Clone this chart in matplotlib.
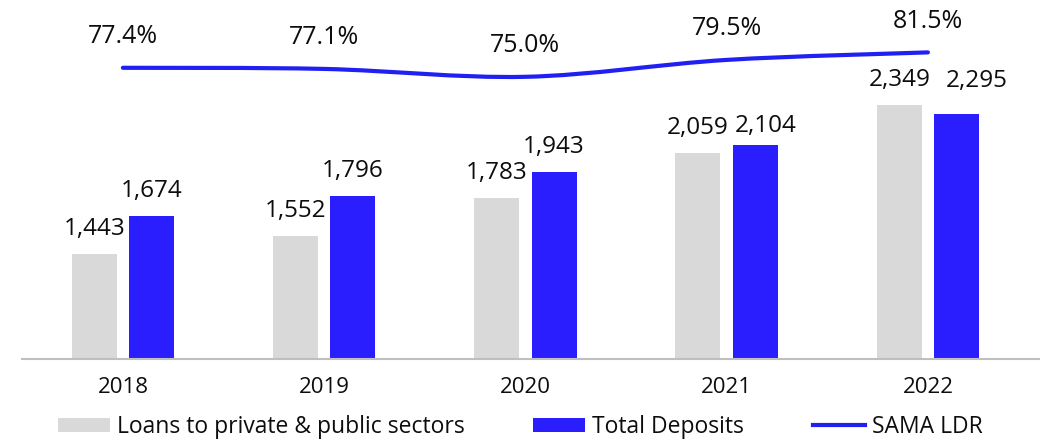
import numpy as np
import matplotlib
matplotlib.use("Agg")
import matplotlib.pyplot as plt
from matplotlib.path import Path
from matplotlib.patches import PathPatch
from matplotlib.lines import Line2D
from matplotlib.patches import Patch

plt.rcParams['font.family'] = ['Open Sans', 'DejaVu Sans']

# данные
years = ['2018', '2019', '2020', '2021', '2022']
loans = [1443, 1552, 1783, 2059, 2349]
deposits = [1674, 1796, 1943, 2104, 2295]
ldr = [77.4, 77.1, 75.0, 79.5, 81.5]

gray = '#D9D9D9'
blue = '#2A1EFF'
line_blue = '#2020F2'
txt = '#0D0D0D'

fig = plt.figure(figsize=(10.4, 4.44), dpi=100)
ax = fig.add_axes([22 / 1040, 85.5 / 444, 1018 / 1040, 358.5 / 444])
ax2 = ax.twinx()

x = np.arange(len(years))
w = 0.2236
off = 0.1426

ax.bar(x - off, loans, w, color=gray, zorder=2)
ax.bar(x + off, deposits, w, color=blue, zorder=2)

ax.set_xlim(-0.5013, 4.557)
ax.set_ylim(811, 2986)
ax2.set_ylim(0, 95.45)

for a in (ax, ax2):
    for s in ('top', 'right', 'left'):
        a.spines[s].set_visible(False)
    a.set_yticks([])
ax2.spines['bottom'].set_visible(False)
ax.spines['bottom'].set_color('#BFBFBF')
ax.spines['bottom'].set_linewidth(1.5)

ax.set_xticks(x)
ax.set_xticklabels(years, fontsize=16, color=txt)
ax.tick_params(axis='x', length=0, pad=13)

# подписи значений над столбцами (некоторые сдвинуты, чтобы не налезали)
nudge_dep = {3: (7.2, -4.0), 4: (14.4, 6.0)}
for i in range(len(years)):
    ax.annotate(f'{loans[i]:,}', (x[i] - off, loans[i]), xytext=(0, 13.7),
                textcoords='offset points', ha='center', va='baseline',
                fontsize=17.5, color=txt)
    dx, dy = nudge_dep.get(i, (0, 0))
    ax.annotate(f'{deposits[i]:,}', (x[i] + off, deposits[i]), xytext=(dx, 13.7 + dy),
                textcoords='offset points', ha='center', va='baseline',
                fontsize=17.5, color=txt)

# сглаженная линия LDR (Catmull-Rom -> кубические Безье)
pts = np.column_stack([x, ldr]).astype(float)
n = len(pts)
verts = [pts[0]]
codes = [Path.MOVETO]
for i in range(n - 1):
    p0 = pts[max(i - 1, 0)]
    p1 = pts[i]
    p2 = pts[i + 1]
    p3 = pts[min(i + 2, n - 1)]
    c1 = p1 + (p2 - p0) / 6
    c2 = p2 - (p3 - p1) / 6
    verts += [c1, c2, p2]
    codes += [Path.CURVE4] * 3
curve = PathPatch(Path(verts, codes), facecolor='none', edgecolor=line_blue,
                  lw=3, capstyle='round', zorder=3)
ax2.add_patch(curve)

for i in range(n):
    ax2.annotate(f'{ldr[i]:.1f}%', (x[i], ldr[i]), xytext=(0, 17.6),
                 textcoords='offset points', ha='center', va='baseline',
                 fontsize=18, color=txt)

handles = [Patch(facecolor=gray, edgecolor='none'),
           Patch(facecolor=blue, edgecolor='none'),
           Line2D([0], [0], color=line_blue, lw=3)]
labels = ['Loans to private & public sectors', 'Total Deposits', 'SAMA LDR']
fig.legend(handles, labels, loc='center', bbox_to_anchor=(0.5, 1 - 427 / 444),
           ncol=3, frameon=False, fontsize=16.5, handlelength=2.27,
           handleheight=0.62, handletextpad=0.3, columnspacing=3.0,
           labelcolor=txt)

fig.savefig('out.png', dpi=100)
